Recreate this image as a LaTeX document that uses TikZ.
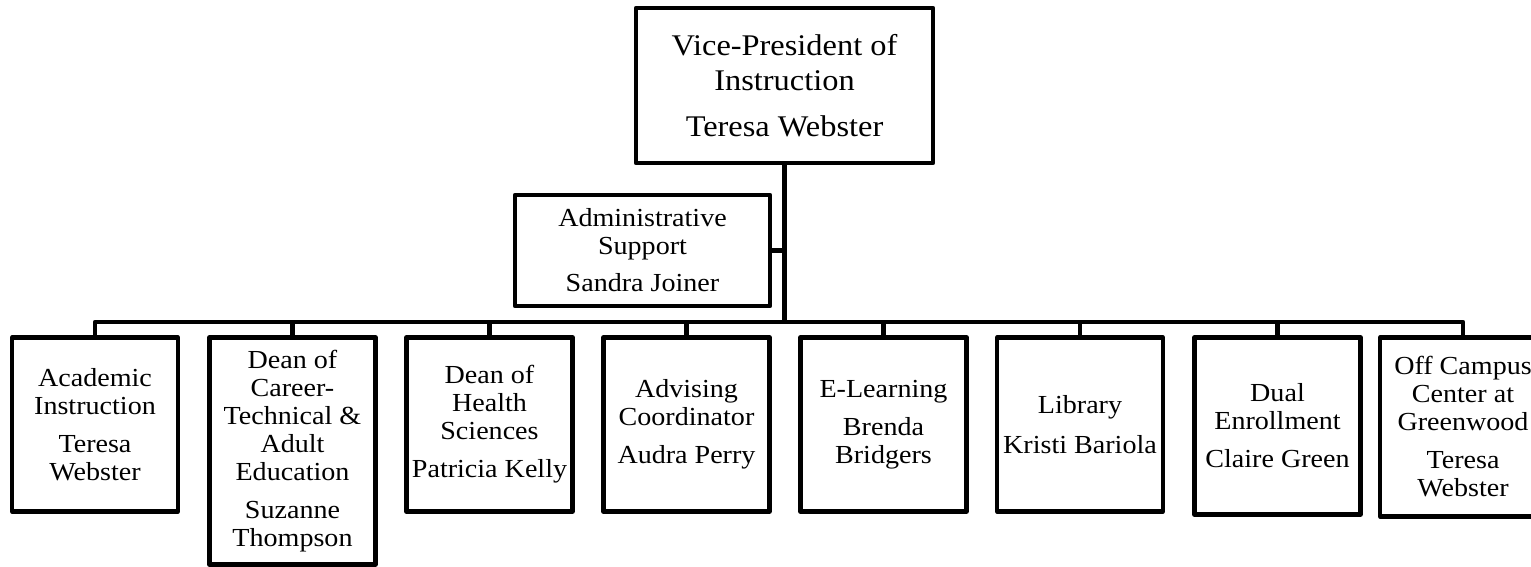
\documentclass[tikz,border=0pt]{standalone}
\usepackage{fontspec}
\setmainfont{Liberation Serif}[FakeStretch=1.08]
\begin{document}
\begin{tikzpicture}[x=1pt,y=-1pt,
  box/.style={draw=black, line width=4.2pt, line join=round, rectangle, inner sep=0pt,
    align=center, minimum width=166pt, font=\fontsize{26}{28}\selectfont},
  topbox/.style={box, minimum width=297pt, minimum height=155pt, font=\fontsize{30}{35}\selectfont},
  conn/.style={draw=black, line width=4.2pt, line join=round}]
\useasboundingbox (0,0) rectangle (1531,566);
\node[topbox] (vp) at (784.5,85.5) {Vice-President of\\Instruction\\[11pt]Teresa Webster};
\node[box, minimum width=255pt, minimum height=111pt] (adm) at (642.5,250.5) {Administrative\\Support\\[9pt]Sandra Joiner};
\coordinate (bus) at (784.5,322);
\node[box, minimum height=174pt] (b1) at (95,424.5) {Academic\\Instruction\\[10pt]Teresa\\Webster};
\node[box, minimum height=227pt] (b2) at (292.5,451) {Dean of\\Career-\\Technical \&\\Adult\\Education\\[10pt]Suzanne\\Thompson};
\node[box, minimum height=174pt] (b3) at (489.5,424.5) {Dean of\\Health\\Sciences\\[10pt]Patricia Kelly};
\node[box, minimum height=174pt] (b4) at (686.5,424.5) {Advising\\Coordinator\\[10pt]Audra Perry};
\node[box, minimum height=174pt] (b5) at (883.5,424.5) {E-Learning\\[10pt]Brenda\\Bridgers};
\node[box, minimum height=174pt] (b6) at (1080,424.5) {Library\\[12pt]Kristi Bariola};
\node[box, minimum height=177pt] (b7) at (1277.5,426) {Dual\\Enrollment\\[10pt]Claire Green};
\node[box, minimum height=179pt] (b8) at (1463,427) {Off Campus\\Center at\\Greenwood\\[10pt]Teresa\\Webster};
\draw[conn] (vp.south) -- (bus);
\draw[conn] (adm.east) -- (adm.east -| bus);
\draw[conn] (b1.north) |- (b8.north |- bus) -- (b8.north);
\foreach \n in {b2,b3,b4,b5,b6,b7}
  \draw[conn] (\n.north) -- (\n.north |- bus);
\end{tikzpicture}
\end{document}
